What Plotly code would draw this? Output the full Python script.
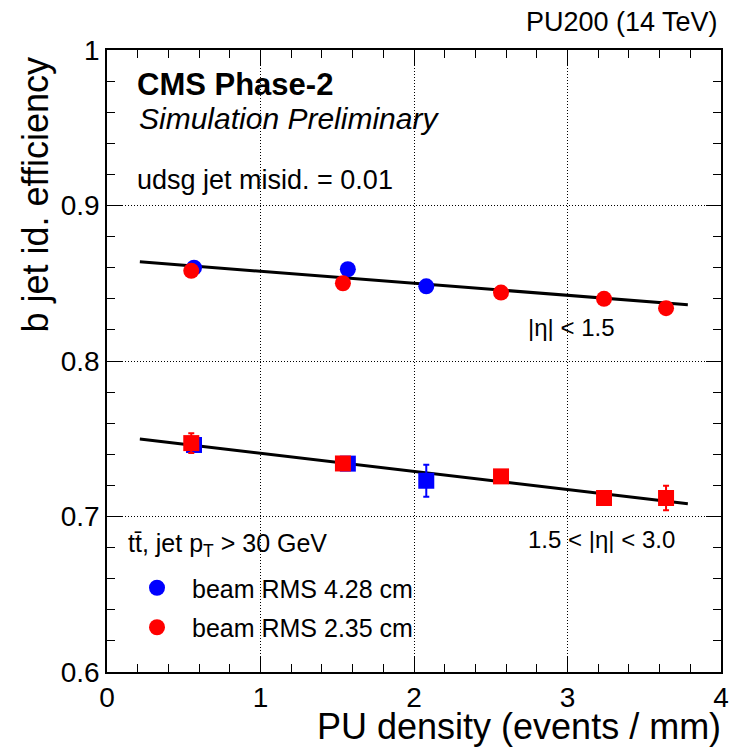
import plotly.graph_objects as go

# ---- data ----
pu_blue = [0.567, 1.569, 2.080]
pu_red = [0.549, 1.537, 2.567, 3.238, 3.642]

eff_central_blue = [0.860, 0.859, 0.848]
eff_central_red = [0.858, 0.850, 0.844, 0.840, 0.834]

eff_fwd_blue = [0.746, 0.734, 0.723]
err_fwd_blue = [0.004, 0.003, 0.0103]
eff_fwd_red = [0.7472, 0.7341, 0.7258, 0.7119, 0.7119]
err_fwd_red = [0.0063, 0.003, 0.003, 0.004, 0.0079]

fit_x = [0.214, 3.784]
fit_central_y = [0.8638, 0.8362]
fit_fwd_y = [0.7499, 0.7082]

x_ticks = [0, 1, 2, 3, 4]
x_ticktext = ["0", "1", "2", "3", "4"]
y_ticks = [0.6, 0.7, 0.8, 0.9, 1.0]
y_ticktext = ["0.6", "0.7", "0.8", "0.9", "1"]

BLUE = "#0000ff"
RED = "#ff0000"
FONT = "Liberation Sans, Arial, Helvetica, sans-serif"

W, H = 730, 749
L, R, T, B = 107, 721, 50, 672


def px(x):
    return (x - L) / (R - L)


def py(y):
    return (B - y) / (B - T)


fig = go.Figure()

for fy in (fit_central_y, fit_fwd_y):
    fig.add_trace(go.Scatter(x=fit_x, y=fy, mode="lines",
                             line=dict(color="black", width=3),
                             showlegend=False, hoverinfo="skip"))

fig.add_trace(go.Scatter(x=pu_blue, y=eff_fwd_blue, mode="markers",
                         marker=dict(symbol="square", size=16, color=BLUE),
                         error_y=dict(type="data", array=err_fwd_blue, color=BLUE,
                                      thickness=2, width=3),
                         showlegend=False))
fig.add_trace(go.Scatter(x=pu_red, y=eff_fwd_red, mode="markers",
                         marker=dict(symbol="square", size=16, color=RED),
                         error_y=dict(type="data", array=err_fwd_red, color=RED,
                                      thickness=2, width=3),
                         showlegend=False))
fig.add_trace(go.Scatter(x=pu_blue, y=eff_central_blue, mode="markers",
                         marker=dict(symbol="circle", size=16, color=BLUE),
                         name="beam RMS 4.28 cm", legendgroup="a"))
fig.add_trace(go.Scatter(x=pu_red, y=eff_central_red, mode="markers",
                         marker=dict(symbol="circle", size=16, color=RED),
                         name="beam RMS 2.35 cm", legendgroup="b"))

axis_common = dict(
    showline=True, linecolor="black", linewidth=1.5, mirror="ticks",
    ticks="inside", ticklen=15, tickwidth=1, tickcolor="black",
    showgrid=True, gridcolor="black", griddash="1px,2px", gridwidth=1,
    zeroline=False, automargin=False, ticklabeloverflow="allow",
    tickfont=dict(family=FONT, size=28, color="black"),
)
fig.update_xaxes(range=[0, 4], tickvals=x_ticks, ticktext=x_ticktext,
                 minor=dict(dtick=0.2, ticklen=8, ticks="inside", tickcolor="black",
                            showgrid=False),
                 **axis_common)
fig.update_yaxes(range=[0.6, 1.0], tickvals=y_ticks, ticktext=y_ticktext,
                 minor=dict(dtick=0.02, ticklen=8, ticks="inside", tickcolor="black",
                            showgrid=False),
                 **axis_common)

ann = []


def text(s, x, y, size, xanchor="left", yanchor="middle", angle=0, **kw):
    ann.append(dict(text=s, x=px(x), y=py(y), xref="paper", yref="paper",
                    xanchor=xanchor, yanchor=yanchor, showarrow=False,
                    textangle=angle,
                    font=dict(family=FONT, size=size, color="black", **kw)))


text("<b>CMS Phase-2</b>", 135, 84, 31)
text("<i>Simulation Preliminary</i>", 137, 118, 30)
text("udsg jet misid. = 0.01", 135, 180, 27)
text("|η| < 1.5", 526, 327, 24)
text("1.5 < |η| < 3.0", 526, 539, 24)
text("tt\u0304, jet p<sub>T</sub> > 30 GeV", 126, 545, 25)
text("PU200 (14 TeV)", 720, 22, 27, xanchor="right")
text("PU density (events / mm)", 723, 726, 36, xanchor="right")
text("b jet id. efficiency", 35, 56, 36, xanchor="center", yanchor="top", angle=-90)

fig.update_layout(
    width=W, height=H,
    margin=dict(l=L, r=W - R, t=T, b=H - B, autoexpand=False),
    paper_bgcolor="white", plot_bgcolor="white",
    annotations=ann,
    showlegend=True,
    legend=dict(
        x=px(122), y=py(565), xanchor="left", yanchor="top",
        bgcolor="rgba(0,0,0,0)", borderwidth=0,
        font=dict(family=FONT, size=25, color="black"),
        traceorder="grouped", tracegroupgap=4, itemsizing="trace",
        itemwidth=60,
    ),
)

fig.write_html("out.html")
